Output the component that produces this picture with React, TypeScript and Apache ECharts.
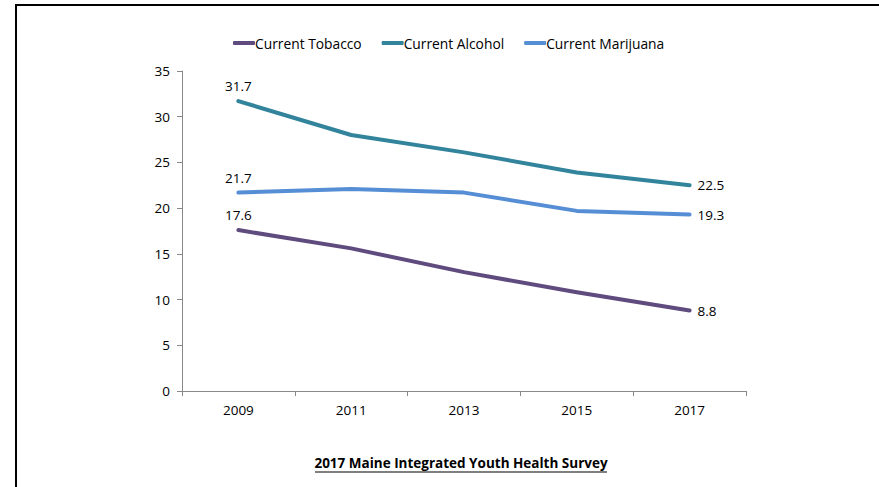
import React, { useEffect, useRef } from "react";
import * as echarts from "echarts";

const years = ["2009", "2011", "2013", "2015", "2017"];
const tobacco = [17.6, 15.6, 13.0, 10.8, 8.8];
const alcohol = [31.7, 28.0, 26.1, 23.9, 22.5];
const marijuana = [21.7, 22.1, 21.7, 19.7, 19.3];
const seriesNames = ["Current Tobacco", "Current Alcohol", "Current Marijuana"];
const colors = ["#5F4B7E", "#31849B", "#558ED5"];
const footer = "2017 Maine Integrated Youth Health Survey";

const FONT = "'Open Sans', 'Noto Sans', sans-serif";

export default function App() {
  const ref = useRef<HTMLDivElement>(null);
  useEffect(() => {
    document.body.style.overflow = "hidden";
    const chart = echarts.init(ref.current!, null, { renderer: "svg" });
    const mk = (name: string, data: number[], color: string) => ({
      name,
      type: "line",
      data: data.map((v, i) => ({
        value: v,
        label: {
          show: i === 0 || i === data.length - 1,
          position: i === 0 ? "top" : "right",
          distance: i === 0 ? 8 : 8,
        },
      })),
      symbol: "circle",
      symbolSize: 0,
      showSymbol: true,
      lineStyle: { color, width: 4, cap: "round", join: "round" },
      itemStyle: { color },
      label: {
        show: false,
        color: "#000",
        fontSize: 13.5,
        fontFamily: FONT,
        formatter: (p: any) => Number(p.value).toFixed(1),
      },
    });
    chart.setOption({
      animation: false,
      textStyle: { fontFamily: FONT },
      color: colors,
      legend: {
        top: 31,
        left: 228,
        itemWidth: 22,
        itemHeight: 4,
        itemGap: 20,
        icon: "roundRect",
        textStyle: { fontSize: 13.8, color: "#000", fontFamily: FONT, padding: [0, 0, 0, -5] },
        data: seriesNames,
      },
      grid: { left: 182, top: 71, right: 133, bottom: 96, containLabel: false },
      xAxis: {
        type: "category",
        data: years,
        boundaryGap: true,
        axisLine: { lineStyle: { color: "#888", width: 1 } },
        axisTick: { show: true, length: 5, inside: false, lineStyle: { color: "#888" } },
        axisLabel: { color: "#000", fontSize: 13.5, fontFamily: FONT, margin: 12 },
      },
      yAxis: {
        type: "value",
        min: 0,
        max: 35,
        interval: 5,
        axisLine: { show: true, lineStyle: { color: "#888", width: 1 } },
        axisTick: { show: true, length: 5, lineStyle: { color: "#888" } },
        splitLine: { show: false },
        axisLabel: { color: "#000", fontSize: 13.5, fontFamily: FONT, margin: 12 },
      },
      series: [
        mk(seriesNames[0], tobacco, colors[0]),
        mk(seriesNames[1], alcohol, colors[1]),
        mk(seriesNames[2], marijuana, colors[2]),
      ],
      graphic: [
        {
          type: "text",
          x: 461,
          y: 463,
          style: {
            text: footer,
            fontSize: 13.5,
            fontWeight: "bold",
            fontFamily: FONT,
            fill: "#000",
            textAlign: "center",
            textVerticalAlign: "middle",
          },
        },
        {
          type: "line",
          shape: { x1: 315, y1: 472, x2: 607, y2: 472 },
          style: { stroke: "#000", lineWidth: 1.2 },
        },
      ],
    });
    return () => chart.dispose();
  }, []);
  return (
    <div style={{ position: "fixed", left: 0, top: 0, width: 879, height: 487, overflow: "hidden", background: "#fff" }}>
      <div
        style={{
          position: "absolute",
          left: 15,
          top: 4,
          width: 870,
          height: 600,
          border: "2px solid #000",
          boxSizing: "border-box",
        }}
      />
      <div ref={ref} style={{ position: "absolute", left: 0, top: 0, width: 879, height: 487 }} />
    </div>
  );
}
